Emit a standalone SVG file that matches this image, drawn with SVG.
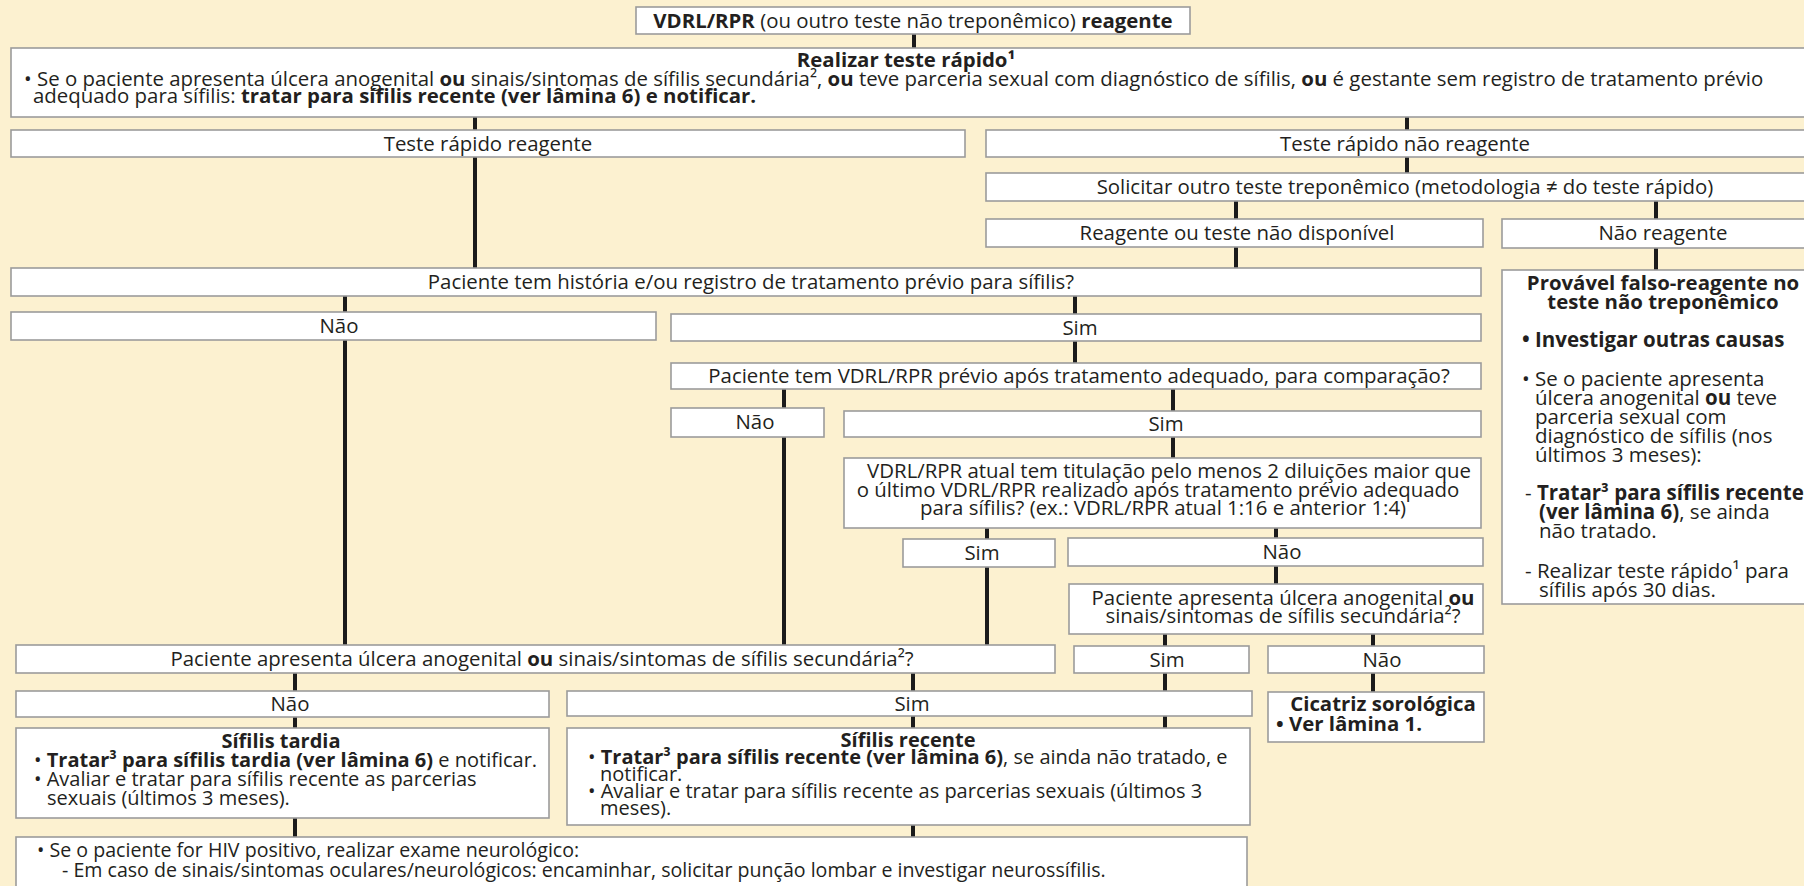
<svg xmlns="http://www.w3.org/2000/svg" width="1804" height="886" viewBox="0 0 1804 886">
<style>
.bx{fill:#ffffff;stroke:#9b9b9b;stroke-width:1.6}
.t{font-family:"Open Sans","Liberation Sans",sans-serif;font-size:20.4px;fill:#231f20}
.c{text-anchor:middle}
.b{font-weight:bold}
.p{font-size:20.5px}
.s{font-size:20px}
.q{font-size:19.6px}
#connectors line{stroke:#1b1b1b;stroke-width:4}
</style>
<rect x="0" y="0" width="1804" height="886" fill="#fcf1d0"/>
<g id="connectors">
<line x1="914" y1="34" x2="914" y2="48"/>
<line x1="475" y1="117" x2="475" y2="130"/>
<line x1="1407" y1="117" x2="1407" y2="130"/>
<line x1="475" y1="157" x2="475" y2="268"/>
<line x1="1407" y1="157" x2="1407" y2="173"/>
<line x1="1236" y1="201" x2="1236" y2="219"/>
<line x1="1656" y1="201" x2="1656" y2="219"/>
<line x1="1236" y1="247" x2="1236" y2="268"/>
<line x1="1656" y1="248" x2="1656" y2="270"/>
<line x1="345" y1="296" x2="345" y2="312"/>
<line x1="1075" y1="296" x2="1075" y2="314"/>
<line x1="345" y1="340" x2="345" y2="645"/>
<line x1="1075" y1="341" x2="1075" y2="363"/>
<line x1="784" y1="389" x2="784" y2="408"/>
<line x1="1173" y1="389" x2="1173" y2="411"/>
<line x1="784" y1="437" x2="784" y2="645"/>
<line x1="1173" y1="437" x2="1173" y2="458"/>
<line x1="987" y1="528" x2="987" y2="539"/>
<line x1="1276" y1="528" x2="1276" y2="538"/>
<line x1="987" y1="567" x2="987" y2="645"/>
<line x1="1276" y1="566" x2="1276" y2="584"/>
<line x1="1165" y1="634" x2="1165" y2="646"/>
<line x1="1373" y1="634" x2="1373" y2="646"/>
<line x1="295" y1="673" x2="295" y2="691"/>
<line x1="913" y1="673" x2="913" y2="691"/>
<line x1="1165" y1="673" x2="1165" y2="691"/>
<line x1="1373" y1="673" x2="1373" y2="692"/>
<line x1="295" y1="717" x2="295" y2="728"/>
<line x1="913" y1="716" x2="913" y2="728"/>
<line x1="1165" y1="716" x2="1165" y2="728"/>
<line x1="295" y1="818" x2="295" y2="837"/>
<line x1="913" y1="825" x2="913" y2="837"/>
</g>
<g id="n1"><rect class="bx" x="636" y="7" width="554" height="27"/>
<text class="t c" x="913" y="27.5"><tspan class="b">VDRL/RPR</tspan> (ou outro teste não treponêmico) <tspan class="b">reagente</tspan></text></g>
<g id="n2"><rect class="bx" x="11" y="48" width="1811" height="69"/>
<text class="t c b" x="906" y="67">Realizar teste rápido¹</text>
<text class="t" x="24" y="86" font-size="20.2">• Se o paciente apresenta úlcera anogenital <tspan class="b">ou</tspan> sinais/sintomas de sífilis secundária², <tspan class="b">ou</tspan> teve parceria sexual com diagnóstico de sífilis, <tspan class="b">ou</tspan> é gestante sem registro de tratamento prévio</text>
<text class="t" x="33" y="103" font-size="20.2">adequado para sífilis: <tspan class="b">tratar para sífilis recente (ver lâmina 6) e notificar.</tspan></text>
</g>
<g id="n3"><rect class="bx" x="11" y="130" width="954" height="27"/>
<text class="t c" x="488" y="150.5">Teste rápido reagente</text></g>
<g id="n4"><rect class="bx" x="986" y="130" width="836" height="27"/>
<text class="t c" x="1405" y="150.5">Teste rápido não reagente</text></g>
<g id="n5"><rect class="bx" x="986" y="173" width="836" height="28"/>
<text class="t c" x="1405" y="194">Solicitar outro teste treponêmico (metodologia ≠ do teste rápido)</text></g>
<g id="n6"><rect class="bx" x="986" y="219" width="497" height="28"/>
<text class="t c" x="1237" y="240">Reagente ou teste não disponível</text></g>
<g id="n7"><rect class="bx" x="1502" y="219" width="320" height="29"/>
<text class="t c" x="1663" y="240">Não reagente</text></g>
<g id="n8"><rect class="bx" x="11" y="268" width="1470" height="28"/>
<text class="t c" x="751" y="289">Paciente tem história e/ou registro de tratamento prévio para sífilis?</text></g>
<g id="n9"><rect class="bx" x="1502" y="270" width="320" height="334"/>
<text class="t c b" x="1663" y="290" font-size="19">Provável falso-reagente no</text>
<text class="t c b" x="1663" y="309" font-size="19">teste não treponêmico</text>
<text class="t p b" x="1522" y="347">• Investigar outras causas</text>
<text class="t p" x="1522" y="386">• Se o paciente apresenta</text>
<text class="t p" x="1535" y="405">úlcera anogenital <tspan class="b">ou</tspan> teve</text>
<text class="t p" x="1535" y="424">parceria sexual com</text>
<text class="t p" x="1535" y="443">diagnóstico de sífilis (nos</text>
<text class="t p" x="1535" y="462">últimos 3 meses):</text>
<text class="t p" x="1525" y="500">- <tspan class="b">Tratar³ para sífilis recente</tspan></text>
<text class="t p" x="1539" y="519"><tspan class="b">(ver lâmina 6)</tspan>, se ainda</text>
<text class="t p" x="1539" y="538">não tratado.</text>
<text class="t p" x="1525" y="578">- Realizar teste rápido¹ para</text>
<text class="t p" x="1539" y="597">sífilis após 30 dias.</text></g>
<g id="n10"><rect class="bx" x="11" y="312" width="645" height="28"/>
<text class="t c" x="339" y="333">Não</text></g>
<g id="n11"><rect class="bx" x="671" y="314" width="810" height="27"/>
<text class="t c" x="1080" y="334.5">Sim</text></g>
<g id="n12"><rect class="bx" x="671" y="363" width="810" height="26"/>
<text class="t c" x="1079" y="383">Paciente tem VDRL/RPR prévio após tratamento adequado, para comparação?</text></g>
<g id="n13"><rect class="bx" x="671" y="408" width="153" height="29"/>
<text class="t c" x="755" y="429">Não</text></g>
<g id="n14"><rect class="bx" x="844" y="411" width="637" height="26"/>
<text class="t c" x="1166" y="431">Sim</text></g>
<g id="n15"><rect class="bx" x="844" y="458" width="637" height="70"/>
<text class="t c" x="1169" y="478">VDRL/RPR atual tem titulação pelo menos 2 diluições maior que</text>
<text class="t c" x="1158" y="497">o último VDRL/RPR realizado após tratamento prévio adequado</text>
<text class="t c" x="1163" y="515">para sífilis? (ex.: VDRL/RPR atual 1:16 e anterior 1:4)</text></g>
<g id="n16"><rect class="bx" x="903" y="539" width="152" height="28"/>
<text class="t c" x="982" y="560">Sim</text></g>
<g id="n17"><rect class="bx" x="1068" y="538" width="415" height="28"/>
<text class="t c" x="1282" y="559">Não</text></g>
<g id="n18"><rect class="bx" x="1069" y="584" width="414" height="50"/>
<text class="t c" x="1283" y="605">Paciente apresenta úlcera anogenital <tspan class="b">ou</tspan></text>
<text class="t c" x="1283" y="623">sinais/sintomas de sífilis secundária²?</text></g>
<g id="n19"><rect class="bx" x="16" y="645" width="1039" height="28"/>
<text class="t c" x="542" y="666">Paciente apresenta úlcera anogenital <tspan class="b">ou</tspan> sinais/sintomas de sífilis secundária²?</text></g>
<g id="n20"><rect class="bx" x="1074" y="646" width="175" height="27"/>
<text class="t c" x="1167" y="666.5">Sim</text></g>
<g id="n21"><rect class="bx" x="1268" y="646" width="216" height="27"/>
<text class="t c" x="1382" y="666.5">Não</text></g>
<g id="n22"><rect class="bx" x="16" y="691" width="533" height="26"/>
<text class="t c" x="290" y="711">Não</text></g>
<g id="n23"><rect class="bx" x="567" y="691" width="685" height="25"/>
<text class="t c" x="912" y="710.5">Sim</text></g>
<g id="n24"><rect class="bx" x="1268" y="692" width="216" height="50"/>
<text class="t c b" x="1383" y="711">Cicatriz sorológica</text>
<text class="t b" x="1276" y="731">• Ver lâmina 1.</text></g>
<g id="n25"><rect class="bx" x="16" y="728" width="533" height="90"/>
<text class="t s c b" x="281" y="748">Sífilis tardia</text>
<text class="t s" x="34" y="767">• <tspan class="b">Tratar³ para sífilis tardia (ver lâmina 6)</tspan> e notificar.</text>
<text class="t s" x="34" y="786">• Avaliar e tratar para sífilis recente as parcerias</text>
<text class="t s" x="47" y="805">sexuais (últimos 3 meses).</text></g>
<g id="n26"><rect class="bx" x="567" y="728" width="683" height="97"/>
<text class="t s c b" x="908" y="747">Sífilis recente</text>
<text class="t s" x="588" y="764">• <tspan class="b">Tratar³ para sífilis recente (ver lâmina 6)</tspan>, se ainda não tratado, e</text>
<text class="t s" x="600" y="781">notificar.</text>
<text class="t s" x="588" y="798">• Avaliar e tratar para sífilis recente as parcerias sexuais (últimos 3</text>
<text class="t s" x="600" y="815">meses).</text></g>
<g id="n27"><rect class="bx" x="16" y="837" width="1231" height="70"/>
<text class="t q" x="37" y="857">• Se o paciente for HIV positivo, realizar exame neurológico:</text>
<text class="t q" x="62" y="877">- Em caso de sinais/sintomas oculares/neurológicos: encaminhar, solicitar punção lombar e investigar neurossífilis.</text></g>
</svg>
